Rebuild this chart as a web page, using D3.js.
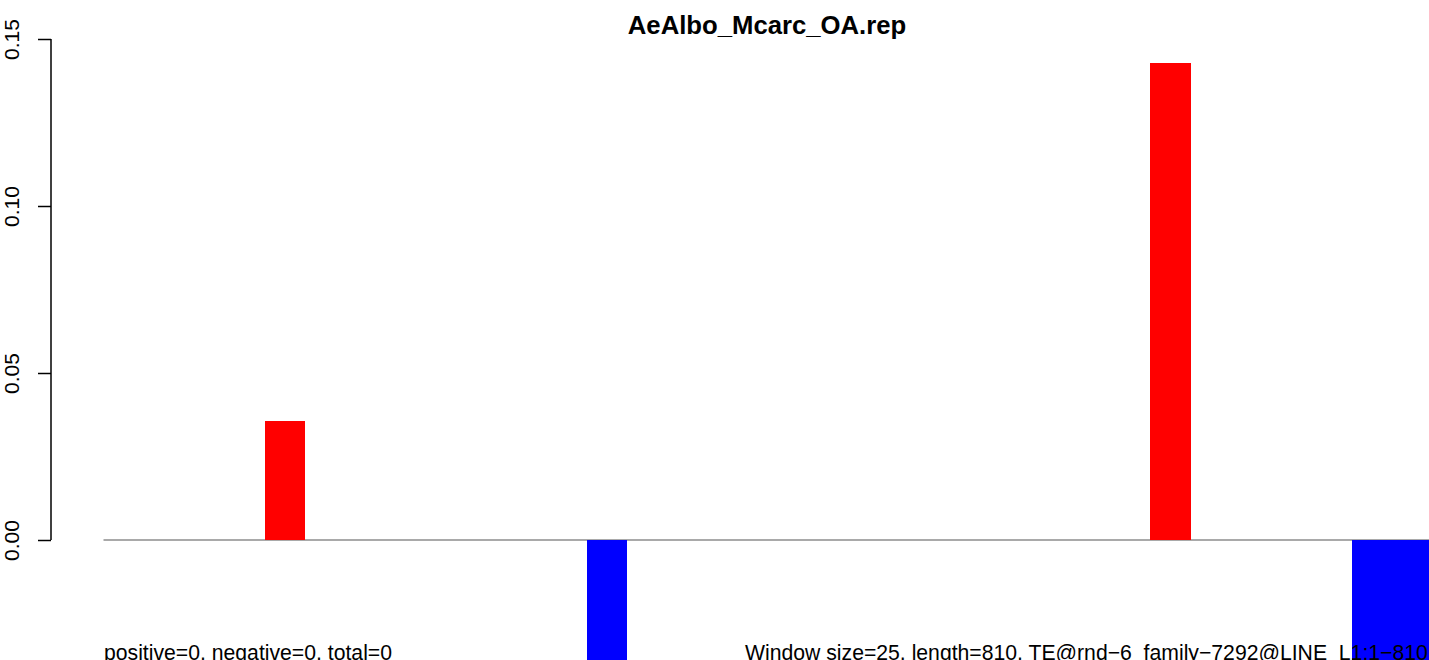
<!DOCTYPE html>
<html lang="en">
<meta charset="utf-8">

<head>
    <title>AeAlbo_Mcarc_OA.rep</title>
    <script type="text/javascript" src="https://cdn.jsdelivr.net/npm/d3@7"></script>
    <style>
        body {
            margin: 0;
            background-color: #fff;
            overflow: hidden;
        }

        svg text {
            font-family: "Liberation Sans", Arial, Helvetica, sans-serif;
            fill: #000;
        }

        .bar {
            shape-rendering: crispEdges;
        }
    </style>
</head>

<body>
    <script>
        // chart data (one value per window, 33 windows)
        const chartTitle = "AeAlbo_Mcarc_OA.rep";
        const windowValues = [
            0, 0, 0, 0, 0.0357, 0, 0, 0, 0, 0, 0,
            0, -0.0714, 0, 0, 0, 0, 0, 0, 0, 0, 0,
            0, 0, 0, 0, 0.1429, 0, 0, 0, 0, -0.1071, -0.1071
        ];
        const yTicks = [0, 0.05, 0.10, 0.15];
        const leftNote = "positive=0, negative=0, total=0";
        const rightNote = "Window size=25, length=810, TE@rnd\u22126  family\u22127292@LINE  L1:1\u2212810";

        const width = 1429, height = 660;

        const svg = d3.select("body")
            .append("svg")
            .attr("width", width)
            .attr("height", height);

        // scales
        const x = d3.scaleBand()
            .domain(d3.range(windowValues.length))
            .range([103.5, 103.5 + windowValues.length * 40.26])
            .padding(0);

        const y = d3.scaleLinear()
            .domain([0, 0.15])
            .range([540, 39]);

        // baseline at zero
        svg.append("line")
            .attr("x1", x.range()[0])
            .attr("x2", x.range()[1])
            .attr("y1", y(0))
            .attr("y2", y(0))
            .attr("stroke", "#a9a9a9")
            .attr("stroke-width", 2);

        // bars (slightly widened so neighbours touch without a seam)
        svg.selectAll(".bar")
            .data(windowValues.map((v, i) => ({ i, v })).filter(d => d.v !== 0))
            .enter()
            .append("rect")
            .attr("class", "bar")
            .attr("x", d => x(d.i))
            .attr("width", x.bandwidth() + 0.6)
            .attr("y", d => y(Math.max(0, d.v)))
            .attr("height", d => Math.abs(y(d.v) - y(0)))
            .attr("fill", d => d.v > 0 ? "#ff0000" : "#0000ff");

        // y axis, R style
        const axis = svg.append("g")
            .attr("transform", "translate(51,0)")
            .call(d3.axisLeft(y).tickValues(yTicks).tickSize(13).tickFormat(d3.format(".2f")));
        axis.select(".domain")
            .attr("d", `M0,${y(0)}V${y(0.15)}`)
            .attr("stroke", "#000")
            .attr("stroke-width", 1.5);
        axis.selectAll(".tick line").attr("stroke", "#000").attr("stroke-width", 1.5);
        axis.selectAll(".tick text")
            .attr("x", null)
            .attr("dy", null)
            .attr("transform", "translate(-32,0) rotate(-90)")
            .attr("text-anchor", "middle")
            .style("font-size", "21px")
            .style("font-family", "'Liberation Sans', Arial, sans-serif");

        // title
        svg.append("text")
            .attr("x", 767)
            .attr("y", 34)
            .attr("text-anchor", "middle")
            .style("font-size", "25.7px")
            .style("font-weight", "bold")
            .text(chartTitle);

        // bottom notes (cut by the lower edge, as in the original)
        svg.append("text")
            .attr("x", 104)
            .attr("y", 660)
            .style("font-size", "21.2px")
            .text(leftNote);

        svg.append("text")
            .attr("x", 745)
            .attr("y", 660)
            .style("font-size", "21.2px")
            .style("white-space", "pre")
            .text(rightNote);
    </script>
</body>

</html>
